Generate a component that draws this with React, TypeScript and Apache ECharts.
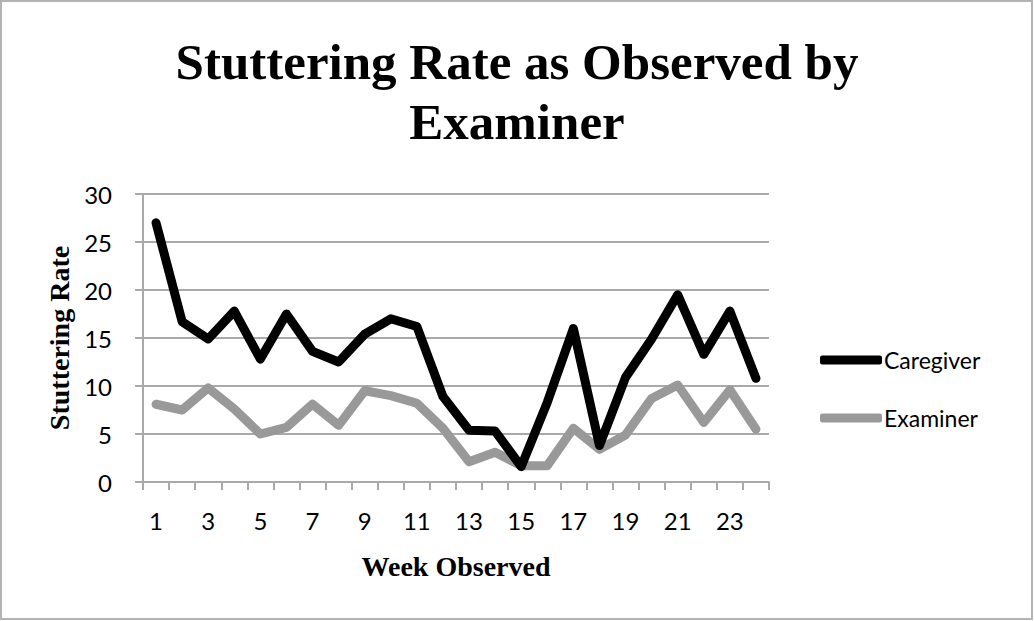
import React, { useEffect, useRef } from "react";
import * as echarts from "echarts";

const weeks = Array.from({ length: 24 }, (_, i) => String(i + 1));
const caregiver = [27.0, 16.7, 14.9, 17.8, 12.8, 17.5, 13.6, 12.5, 15.4, 17.0, 16.2, 8.9, 5.4, 5.3, 1.6, 8.3, 16.0, 3.8, 10.9, 14.9, 19.5, 13.3, 17.8, 10.8];
const examiner = [8.1, 7.5, 9.8, 7.6, 5.0, 5.7, 8.1, 5.9, 9.5, 9.0, 8.2, 5.6, 2.1, 3.1, 1.7, 1.7, 5.6, 3.4, 4.9, 8.7, 10.1, 6.2, 9.6, 5.5];
const yTicks = [0, 5, 10, 15, 20, 25, 30];

export default function App() {
  const ref = useRef<HTMLDivElement>(null);
  useEffect(() => {
    const chart = echarts.init(ref.current!, null, { renderer: "svg" });
    const gray = "#a9a9a9";
    chart.setOption({
      animation: false,
      backgroundColor: "#fff",
      title: {
        text: "Stuttering Rate as Observed by\nExaminer",
        left: "center",
        top: 32,
        padding: 0,
        textStyle: {
          fontFamily: "Liberation Serif",
          fontWeight: "bold",
          fontSize: 51,
          lineHeight: 60,
          color: "#000",
        },
      },
      graphic: [
        {
          type: "rect",
          shape: { x: 1, y: 1, width: 1031, height: 618 },
          style: { fill: "none", stroke: "#b3b3b3", lineWidth: 2 },
          silent: true,
        },
      ],
      legend: {
        orient: "vertical",
        left: 815,
        top: 343,
        itemWidth: 62,
        itemHeight: 9,
        itemGap: 34,
        icon: "roundRect",
        data: ["Caregiver", "Examiner"],
        textStyle: { fontFamily: "Lato", fontSize: 23, color: "#000", lineHeight: 24, padding: [0, 0, 0, -3] },
      },
      grid: { left: 143, right: 265, top: 194, bottom: 139, containLabel: false },
      xAxis: {
        type: "category",
        data: weeks,
        boundaryGap: true,
        name: "Week Observed",
        nameLocation: "middle",
        nameGap: 70,
        nameTextStyle: { fontFamily: "Liberation Serif", fontWeight: "bold", fontSize: 28, color: "#000" },
        axisLine: { lineStyle: { color: gray, width: 2 } },
        axisTick: { show: true, interval: 0, length: 8, lineStyle: { color: gray, width: 2 } },
        axisLabel: { interval: 1, margin: 26, fontFamily: "Lato", fontSize: 24, color: "#000" },
        splitLine: { show: false },
      },
      yAxis: {
        type: "value",
        min: 0,
        max: 30,
        interval: 5,
        name: "Stuttering Rate",
        nameLocation: "middle",
        nameGap: 70,
        nameRotate: 90,
        nameTextStyle: { fontFamily: "Liberation Serif", fontWeight: "bold", fontSize: 28, color: "#000" },
        axisLine: { show: true, lineStyle: { color: gray, width: 2 } },
        axisTick: { show: true, length: 8, lineStyle: { color: gray, width: 2 } },
        axisLabel: {
          margin: 31,
          fontFamily: "Lato",
          fontSize: 24,
          color: "#000",
          formatter: (v: number) => (yTicks.includes(v) ? String(v) : ""),
        },
        splitLine: { show: true, lineStyle: { color: gray, width: 2 } },
      },
      series: [
        {
          name: "Examiner",
          type: "line",
          data: examiner,
          showSymbol: false,
          color: "#999999",
          lineStyle: { color: "#999999", width: 9, join: "round", cap: "round" },
          z: 2,
        },
        {
          name: "Caregiver",
          type: "line",
          data: caregiver,
          showSymbol: false,
          color: "#000000",
          lineStyle: { color: "#000000", width: 9, join: "round", cap: "round" },
          z: 3,
        },
      ],
    });
    return () => chart.dispose();
  }, []);
  return <div ref={ref} style={{ position: "absolute", left: 0, top: 0, width: 1034, height: 621 }} />;
}
